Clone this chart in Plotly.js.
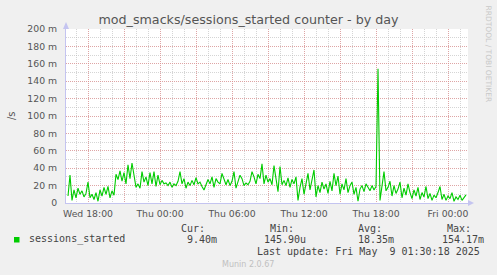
<!DOCTYPE html>
<html>
<head>
<meta charset="utf-8">
<script src="https://cdn.plot.ly/plotly-3.0.1.min.js"></script>
<style>
  html, body { margin: 0; padding: 0; background: #f0f0f0; }
  #chart { width: 497px; height: 275px; }
</style>
</head>
<body>
<div id="chart"></div>
<script>
// ---- data (10-minute samples, Wed 2025-05-07 16:20 .. Fri 2025-05-09 01:30), values in milli-sessions/s ----
const seriesName = "sessions_started";
const startTime = "2025-05-07T16:20:00Z";
const stepMinutes = 10;
const sessionsStarted = [
  8, 32, 3, 15, 6, 17, 10, 14, 7, 11,
  24, 6, 10, 4, 12, 2, 15, 8, 18, 10,
  19, 6, 14, 9, 33, 27, 37, 25, 35, 22,
  44, 28, 46, 30, 18, 22, 17, 36, 24, 30,
  20, 35, 22, 36, 19, 32, 21, 26, 22, 23,
  20, 24, 18, 22, 20, 25, 36, 22, 28, 17,
  24, 20, 26, 21, 29, 22, 24, 19, 15, 21,
  27, 22, 30, 18, 28, 24, 22, 34, 26, 21,
  27, 20, 25, 36, 17, 24, 32, 28, 20, 23,
  21, 25, 36, 30, 22, 33, 28, 45, 22, 32,
  24, 28, 21, 43, 28, 13, 42, 21, 26, 20,
  29, 18, 27, 22, 30, 3, 18, 28, 10, 24,
  34, 15, 26, 38, 7, 20, 12, 24, 16, 22,
  11, 25, 14, 34, 20, 31, 10, 22, 15, 28,
  12, 20, 24, 10, 18, 2, 16, 20, 13, 22,
  18, 14, 20, 15, 19, 154.17, 3, 22, 36, 14,
  18, 25, 8, 20, 11, 16, 24, 6, 17, 9,
  22, 12, 5, 15, 8, 18, 4, 12, 7, 19,
  5, 11, 3, 9, 6, 12, 19, 4, 10, 3,
  8, 5, 12, 2, 7, 4, 9, 3, 6, 9.4
];
const xRange = ["2025-05-07 16:10", "2025-05-09 01:40"];
const xTickVals = [
  "2025-05-07 18:00", "2025-05-07 21:00", "2025-05-08 00:00", "2025-05-08 03:00",
  "2025-05-08 06:00", "2025-05-08 09:00", "2025-05-08 12:00", "2025-05-08 15:00",
  "2025-05-08 18:00", "2025-05-08 21:00", "2025-05-09 00:00"
];
const xTickText = [
  "Wed 18:00", "", "Thu 00:00", "", "Thu 06:00", "", "Thu 12:00", "", "Thu 18:00", "", "Fri 00:00"
];
const yTickVals = [0, 20, 40, 60, 80, 100, 120, 140, 160, 180, 200];
const yTickText = ["0", "20 m", "40 m", "60 m", "80 m", "100 m", "120 m", "140 m", "160 m", "180 m", "200 m"];
const legendStats = {cur: "9.40m", min: "145.90u", avg: "18.35m", max: "154.17m"};
const lastUpdate = "Last update: Fri May \u00a09 01:30:18 2025";

// ---- build x timestamps ----
const t0 = Date.parse(startTime);
const xTimes = sessionsStarted.map((_, i) =>
  new Date(t0 + i * stepMinutes * 60000).toISOString().slice(0, 16).replace("T", " "));

// ---- layout helpers (pixel -> paper) ----
const L = 66, R = 468, T = 29, B = 203, W = 497, H = 275;
const px = x => (x - L) / (R - L);
const py = y => (B - y) / (B - T);

const majorGrid = "rgba(228,140,140,0.65)";
const minorGrid = "rgba(185,185,185,0.6)";
const axisCol = "#c4c4f0";
const textCol = "#555555";
const mono = "DejaVu Sans Mono, monospace";
const sans = "DejaVu Sans, sans-serif";

const trace = {
  x: xTimes, y: sessionsStarted, type: "scatter", mode: "lines",
  line: {color: "#00cc00", width: 1.1}, name: seriesName, hoverinfo: "skip"
};

function ann(text, x, y, opts) {
  return Object.assign({
    text: text, xref: "paper", yref: "paper", x: px(x), y: py(y),
    showarrow: false, xanchor: "center", yanchor: "middle",
    font: {family: mono, size: 10, color: "#444"}
  }, opts || {});
}

const layout = {
  width: W, height: H,
  margin: {l: L, r: W - R, t: T, b: H - B, pad: 0},
  paper_bgcolor: "#f0f0f0", plot_bgcolor: "#ffffff",
  showlegend: false,
  title: {
    text: "mod_smacks/sessions_started counter - by day",
    font: {family: sans, size: 12.7, color: textCol},
    xref: "container", yref: "container", x: 248.5 / W, y: 1 - 19.5 / H,
    xanchor: "center", yanchor: "middle"
  },
  xaxis: {
    type: "date", range: xRange, tickmode: "array", tickvals: xTickVals, ticktext: xTickText,
    showgrid: true, gridcolor: majorGrid, griddash: "1px,1px", gridwidth: 1,
    minor: {dtick: 3600000, tick0: "2025-05-07 18:00", showgrid: true, gridcolor: minorGrid, griddash: "1px,1px", gridwidth: 1},
    showline: true, linecolor: axisCol, linewidth: 1, zeroline: false,
    ticks: "", ticklabelstandoff: 2,
    tickfont: {family: sans, size: 9.3, color: textCol}, fixedrange: true
  },
  yaxis: {
    range: [0, 200], tickmode: "array", tickvals: yTickVals, ticktext: yTickText,
    showgrid: true, gridcolor: majorGrid, griddash: "1px,1px", gridwidth: 1,
    minor: {dtick: 10, tick0: 0, showgrid: true, gridcolor: minorGrid, griddash: "1px,1px", gridwidth: 1},
    showline: true, linecolor: axisCol, linewidth: 1, zeroline: false,
    ticks: "", ticklabelstandoff: 6,
    tickfont: {family: sans, size: 9.3, color: textCol}, fixedrange: true
  },
  shapes: [
    {type: "path", xref: "paper", yref: "paper", layer: "above",
     path: `M ${px(468)} ${py(200)} L ${px(474)} ${py(203)} L ${px(468)} ${py(206)} Z`,
     fillcolor: axisCol, line: {width: 0}},
    {type: "path", xref: "paper", yref: "paper", layer: "above",
     path: `M ${px(63)} ${py(29)} L ${px(66)} ${py(22)} L ${px(69)} ${py(29)} Z`,
     fillcolor: axisCol, line: {width: 0}},
    {type: "rect", xref: "paper", yref: "paper",
     x0: px(14), x1: px(19.5), y0: py(242.5), y1: py(237),
     fillcolor: "#00cc00", line: {width: 0}}
  ],
  annotations: [
    ann("/s", 11, 116, {textangle: -90, font: {family: sans, size: 10, color: textCol}}),
    ann("RRDTOOL / TOBI OETIKER", 488, 53.5, {textangle: 90, font: {family: sans, size: 7.5, color: "#c8c8c8"}}),
    ann(seriesName, 27, 239.5, {xanchor: "left"}),
    ann("Cur:", 192.5, 228),
    ann(legendStats.cur, 202, 239.5),
    ann("Min:", 281.7, 228),
    ann(legendStats.min, 285, 239.5),
    ann("Avg:", 369.7, 228),
    ann(legendStats.avg, 375.5, 239.5),
    ann("Max:", 458.7, 228),
    ann(legendStats.max, 462.5, 239.5),
    ann(lastUpdate, 482, 251, {xanchor: "right"}),
    ann("Munin 2.0.67", 248, 264, {font: {family: sans, size: 8, color: "#c0c0c0"}})
  ]
};

Plotly.newPlot("chart", [trace], layout, {staticPlot: true, displayModeBar: false});
</script>
</body>
</html>
